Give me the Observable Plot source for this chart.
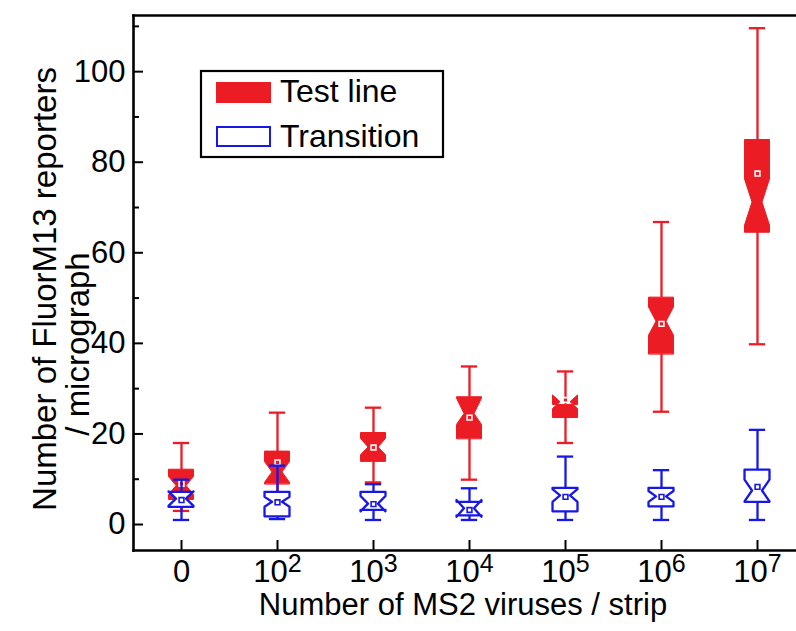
<!DOCTYPE html>
<html>
<head>
<meta charset="utf-8">
<script src="https://cdn.jsdelivr.net/npm/d3@7"></script>
<script src="https://cdn.jsdelivr.net/npm/@observablehq/plot@0.6"></script>
<style>
  html, body { margin: 0; padding: 0; background: #fff; overflow: hidden; }
  #chart { width: 796px; height: 631px; overflow: hidden; position: relative; }
  #chart svg { display: block; max-width: none !important; width: 830px !important; height: 631px !important; }
</style>
</head>
<body>
<div id="chart"></div>
<script>
// ---- data ----
const categories = ["0", "10^2", "10^3", "10^4", "10^5", "10^6", "10^7"];
const seriesNames = ["Test line", "Transition"];
const seriesColors = ["#ec1c24", "#1717e8"];

const testWhiskerLo = [3.0, 5.5, 9.3, 9.9, 18.0, 24.9, 39.8];
const testQ1        = [5.5, 8.9, 13.9, 18.9, 23.6, 37.6, 64.5];
const testNotchLo   = [6.5, 9.2, 15.3, 22.0, 25.5, 41.7, 66.0];
const testMedian    = [8.5, 11.5, 17.0, 24.4, 27.0, 44.8, 71.1];
const testNotchHi   = [10.5, 13.8, 18.9, 27.8, 28.5, 47.9, 76.2];
const testQ3        = [12.1, 16.1, 20.2, 28.1, 26.4, 50.1, 84.9];
const testWhiskerHi = [18.0, 24.7, 25.8, 34.9, 33.8, 66.8, 109.6];
const testMean      = [9.0, 13.7, 17.0, 23.6, 27.5, 44.3, 77.5];

const transWhiskerLo = [1.0, 1.2, 1.0, 1.0, 1.0, 1.0, 1.0];
const transQ1        = [3.8, 1.7, 3.1, 1.9, 2.8, 3.9, 4.9];
const transNotchLo   = [4.0, 3.8, 2.8, 1.6, 4.9, 4.9, 5.0];
const transMedian    = [5.6, 4.9, 4.5, 3.5, 6.3, 6.1, 7.4];
const transNotchHi   = [7.2, 6.0, 6.2, 5.3, 7.7, 7.3, 9.8];
const transQ3        = [7.1, 7.1, 7.1, 4.9, 8.0, 8.0, 12.0];
const transWhiskerHi = [9.9, 13.0, 8.9, 8.0, 15.0, 12.0, 20.9];
const transMean      = [5.4, 4.9, 4.5, 3.2, 6.1, 6.1, 8.3];

const yTicks = [0, 20, 40, 60, 80, 100];
const yMinorTicks = [10, 30, 50, 70, 90, 110];
const yDomain = [-5.74, 112.4];

const xLabel = "Number of MS2 viruses / strip";
const yLabel1 = "Number of FluorM13 reporters";
const yLabel2 = "/ micrograph";

// ---- build tables ----
function makeBoxes(series, lo, q1, nlo, med, nhi, q3, hi, mean) {
  return categories.map((c, i) => ({
    series, i, key: series + i,
    lo: lo[i], q1: q1[i], nlo: nlo[i], med: med[i], nhi: nhi[i], q3: q3[i], hi: hi[i], mean: mean[i]
  }));
}
const testBoxes = makeBoxes("test", testWhiskerLo, testQ1, testNotchLo, testMedian, testNotchHi, testQ3, testWhiskerHi, testMean);
const transBoxes = makeBoxes("trans", transWhiskerLo, transQ1, transNotchLo, transMedian, transNotchHi, transQ3, transWhiskerHi, transMean);

const HW = 0.13, HWN = 0.052, CAP = 0.085;
function notchOutline(boxes) {
  // path order like a notched box: q1 -> notchLo -> median -> notchHi -> q3
  const pts = [];
  for (const b of boxes) {
    for (const [v, w] of [[b.q1, HW], [b.nlo, HW], [b.med, HWN], [b.nhi, HW], [b.q3, HW]]) {
      pts.push({key: b.key, y: v, x1: b.i - w, x2: b.i + w});
    }
  }
  return pts;
}
const testOutline = notchOutline(testBoxes);
const transOutline = notchOutline(transBoxes);

function boxMarks(boxes, outline, color, filled) {
  return [
    Plot.ruleX(boxes, {x: "i", y1: "q3", y2: "hi", stroke: color, strokeWidth: 2.3}),
    Plot.ruleX(boxes, {x: "i", y1: "lo", y2: "q1", stroke: color, strokeWidth: 2.3}),
    Plot.ruleY(boxes, {y: "hi", x1: d => d.i - CAP, x2: d => d.i + CAP, stroke: color, strokeWidth: 2.3}),
    Plot.ruleY(boxes, {y: "lo", x1: d => d.i - CAP, x2: d => d.i + CAP, stroke: color, strokeWidth: 2.3}),
    Plot.areaX(outline, {y: "y", x1: "x1", x2: "x2", z: "key",
      fill: filled ? color : "white", stroke: color, strokeWidth: filled ? 1 : 2.3, curve: "linear"}),
    Plot.dot(boxes, {x: "i", y: "mean", symbol: "square", r: 2.7,
      fill: filled ? color : "white", stroke: filled ? "white" : color, strokeWidth: 1.6})
  ];
}

const font = "'Liberation Sans', Arial, Helvetica, sans-serif";
const plot = Plot.plot({
  width: 830,
  height: 631,
  marginLeft: 133,
  marginRight: 0,
  marginTop: 15,
  marginBottom: 81,
  x: {type: "linear", domain: [-0.5, 6.5], range: [133, 805]},
  y: {domain: yDomain},
  style: {fontFamily: font, color: "#000", background: "#fff"},
  marks: [
    ...boxMarks(testBoxes, testOutline, seriesColors[0], true),
    ...boxMarks(transBoxes, transOutline, seriesColors[1], false),
    Plot.axisY({anchor: "left", ticks: yTicks, tickSize: -10, tickPadding: 18, strokeWidth: 2, fontSize: 31, label: null}),
    Plot.axisY({anchor: "left", ticks: yMinorTicks, tickSize: -6, tickPadding: 0, strokeWidth: 2, tickFormat: () => "", label: null}),
    Plot.axisX({anchor: "bottom", ticks: d3.range(categories.length), tickSize: -10, tickPadding: 19, strokeWidth: 2,
      fontSize: 31, tickFormat: i => categories[i], label: null}),
    Plot.frame({anchor: "top", stroke: "#000", strokeWidth: 2.6}),
    Plot.frame({anchor: "bottom", stroke: "#000", strokeWidth: 2.6}),
    Plot.frame({anchor: "left", stroke: "#000", strokeWidth: 2.6})
  ]
});
document.getElementById("chart").appendChild(plot);

const svg = d3.select(plot);
// superscripts on x tick labels
svg.selectAll('g[aria-label="x-axis tick label"] text').each(function () {
  const m = this.textContent.match(/^(\d+)\^(\d+)$/);
  if (m) {
    const t = d3.select(this);
    t.text(m[1]);
    t.append("tspan").attr("dy", -10).attr("font-size", 25).text(m[2]);
  }
});

// axis titles
svg.append("text").attr("x", 463).attr("y", 615).attr("text-anchor", "middle")
  .attr("font-family", font).attr("font-size", 31).attr("fill", "#000").text(xLabel);
svg.append("text").attr("transform", "translate(56,289) rotate(-90)").attr("text-anchor", "middle")
  .attr("font-family", font).attr("font-size", 33).attr("fill", "#000").text(yLabel1);
svg.append("text").attr("transform", "translate(89,344) rotate(-90)").attr("text-anchor", "middle")
  .attr("font-family", font).attr("font-size", 33).attr("fill", "#000").text(yLabel2);

// legend
const lg = svg.append("g").attr("font-family", font).attr("font-size", 32).attr("text-anchor", "start");
lg.append("rect").attr("x", 201).attr("y", 71).attr("width", 242).attr("height", 86)
  .attr("fill", "#fff").attr("stroke", "#000").attr("stroke-width", 2.2);
lg.append("rect").attr("x", 216).attr("y", 82).attr("width", 55).attr("height", 21)
  .attr("fill", seriesColors[0]);
lg.append("rect").attr("x", 217).attr("y", 127).attr("width", 53).attr("height", 19)
  .attr("fill", "#fff").attr("stroke", seriesColors[1]).attr("stroke-width", 2);
lg.append("text").attr("x", 280).attr("y", 102).attr("text-anchor", "start").attr("fill", "#000").text(seriesNames[0]);
lg.append("text").attr("x", 280).attr("y", 147).attr("text-anchor", "start").attr("fill", "#000").text(seriesNames[1]);
</script>
</body>
</html>
